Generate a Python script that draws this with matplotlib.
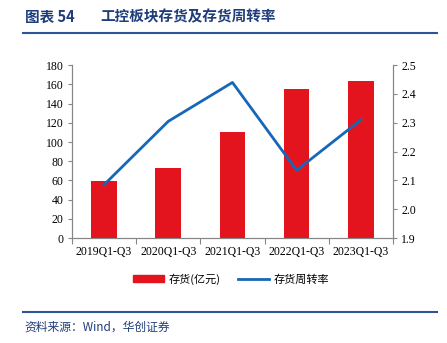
import matplotlib
matplotlib.use('Agg')
import matplotlib.pyplot as plt
import numpy as np
from matplotlib.lines import Line2D
from matplotlib.patches import Patch

# data
periods = ['2019Q1-Q3', '2020Q1-Q3', '2021Q1-Q3', '2022Q1-Q3', '2023Q1-Q3']
inventory = [59, 72.5, 110, 155, 164]          # 存货(亿元)
turnover = [2.085, 2.305, 2.44, 2.135, 2.31]    # 存货周转率

bar_color = '#E3141D'
line_color = '#1767B8'
title_color = '#1F3D7A'
axis_color = '#868686'
cjk = ['Noto Sans CJK SC', 'DejaVu Sans']
serif = ['Liberation Serif', 'DejaVu Serif']

fig = plt.figure(figsize=(4.47, 3.43), dpi=100)
ax = fig.add_axes([0.161, 0.306, 0.718, 0.504])
x = np.arange(len(periods))
ax.bar(x, inventory, width=0.4, color=bar_color, zorder=2)
ax.set_xlim(-0.5, len(periods) - 0.5)
ax.set_ylim(0, 180)
ax.set_yticks(np.arange(0, 181, 20))

ax2 = ax.twinx()
ax2.plot(x, turnover, color=line_color, linewidth=2, zorder=3)
ax2.set_ylim(1.9, 2.5)
ax2.set_yticks(np.arange(1.9, 2.51, 0.1))
ax2.set_yticklabels([f'{v:.1f}' for v in np.arange(1.9, 2.51, 0.1)])

# x ticks: labels at centers, tick marks at boundaries
ax.set_xticks(x)
ax.set_xticklabels(periods, fontfamily=serif, fontsize=8.5)
ax.set_xticks(np.arange(-0.5, len(periods), 1), minor=True)
ax.tick_params(axis='x', which='major', length=0, pad=6)
ax.tick_params(axis='x', which='minor', length=4, color=axis_color, width=0.8)

for a in (ax, ax2):
    a.spines['top'].set_visible(False)
    for s in ('left', 'right', 'bottom'):
        a.spines[s].set_color(axis_color)
        a.spines[s].set_linewidth(0.8)
    a.tick_params(axis='y', length=3, color=axis_color, width=0.8, labelsize=8.5, pad=3)
    for lbl in a.get_yticklabels():
        lbl.set_fontfamily(serif)

# legend
handles = [Patch(color=bar_color), Line2D([0], [0], color=line_color, linewidth=2)]
fig.legend(handles, ['存货(亿元)', '存货周转率'], loc='center', bbox_to_anchor=(0.517, 0.187),
           ncol=2, frameon=False, prop={'family': cjk, 'size': 8},
           handlelength=2.8, handleheight=0.7, columnspacing=1.6, handletextpad=0.4)

# header and footer
fig.text(0.055, 0.952, '图表 54', fontfamily=cjk, fontsize=10.5, fontweight='bold', color=title_color,
         va='center')
fig.text(0.225, 0.952, '工控板块存货及存货周转率', fontfamily=cjk, fontsize=10.5, fontweight='bold',
         color=title_color, va='center')
fig.add_artist(Line2D([0.052, 0.978], [0.903, 0.903], color='#2B5597', linewidth=1.5))
fig.add_artist(Line2D([0.052, 0.978], [0.091, 0.091], color='#2B5597', linewidth=1.5))
fig.text(0.055, 0.046, '资料来源：Wind，华创证券', fontfamily=cjk, fontsize=8.5, style='italic',
         color=title_color, va='center')

fig.savefig('out.png', dpi=100)
